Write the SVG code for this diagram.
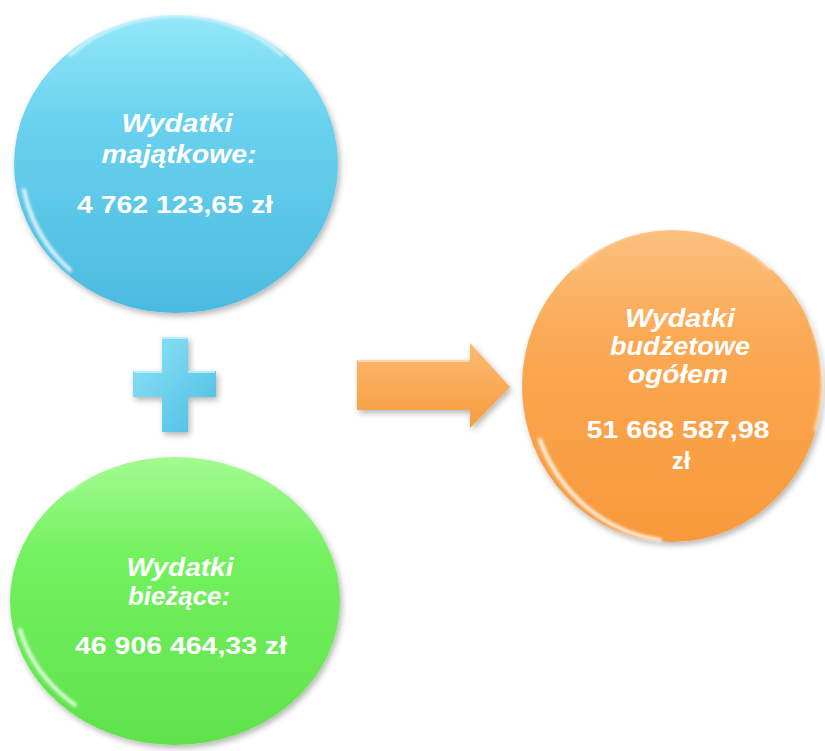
<svg xmlns="http://www.w3.org/2000/svg" width="825" height="751" viewBox="0 0 825 751">
<style>
.lbl{font-family:"Liberation Sans",Arial,sans-serif;font-weight:bold;font-style:italic;font-size:25px;fill:#fff;text-anchor:middle}
.num{font-family:"Liberation Sans",Arial,sans-serif;font-weight:bold;font-size:24px;fill:#fff;text-anchor:middle}
.rim{fill:none;stroke:#fff;stroke-linecap:round}
</style>
<defs>
<linearGradient id="gBlue" x1="0" y1="0" x2="0" y2="1">
<stop offset="0" stop-color="#93e8f8"/><stop offset="0.35" stop-color="#6ad2ee"/><stop offset="1" stop-color="#4bbbe0"/>
</linearGradient>
<linearGradient id="gGreen" x1="0" y1="0" x2="0" y2="1">
<stop offset="0" stop-color="#a2fb90"/><stop offset="0.35" stop-color="#73f15f"/><stop offset="1" stop-color="#5fe24b"/>
</linearGradient>
<linearGradient id="gOrange" x1="0" y1="0" x2="0" y2="1">
<stop offset="0" stop-color="#fcc07f"/><stop offset="0.35" stop-color="#faa954"/><stop offset="1" stop-color="#f8993a"/>
</linearGradient>
<linearGradient id="gPlus" x1="0" y1="0" x2="1" y2="1">
<stop offset="0" stop-color="#8fe4f7"/><stop offset="1" stop-color="#4cbce2"/>
</linearGradient>
<linearGradient id="gArrow" x1="0" y1="0" x2="0" y2="1">
<stop offset="0" stop-color="#fcbb72"/><stop offset="1" stop-color="#f89b3e"/>
</linearGradient>
<filter id="shadow" x="-20%" y="-20%" width="140%" height="140%">
<feGaussianBlur in="SourceAlpha" stdDeviation="3"/><feOffset dx="2" dy="3"/>
<feComponentTransfer><feFuncA type="linear" slope="0.3"/></feComponentTransfer>
<feMerge><feMergeNode/><feMergeNode in="SourceGraphic"/></feMerge>
</filter>
<filter id="soft"><feGaussianBlur stdDeviation="1.5"/></filter>
</defs>

<g id="node-majatkowe">
<ellipse cx="176" cy="164" rx="162" ry="149" fill="url(#gBlue)" filter="url(#shadow)"/>
<path class="rim" d="M70,55 A150,135 0 0 1 282,55" stroke-width="4" opacity="0.55" filter="url(#soft)"/>
<path class="rim" d="M24,190 A160,150 0 0 0 70,270" stroke-width="4" opacity="0.8" filter="url(#soft)"/>
<text class="lbl" x="177" y="132" textLength="111" lengthAdjust="spacingAndGlyphs">Wydatki</text>
<text class="lbl" x="179" y="163" textLength="155" lengthAdjust="spacingAndGlyphs">majątkowe:</text>
<text class="num" x="175" y="213" textLength="196" lengthAdjust="spacingAndGlyphs">4 762 123,65 zł</text>
</g>

<g id="node-biezace">
<ellipse cx="175" cy="601" rx="165" ry="144" fill="url(#gGreen)" filter="url(#shadow)"/>
<path class="rim" d="M70,490 A150,130 0 0 1 285,490" stroke-width="4" opacity="0.55" filter="url(#soft)"/>
<path class="rim" d="M20,630 A160,145 0 0 0 75,705" stroke-width="4" opacity="0.8" filter="url(#soft)"/>
<text class="lbl" x="180" y="576" textLength="107" lengthAdjust="spacingAndGlyphs">Wydatki</text>
<text class="lbl" x="179" y="605" textLength="102" lengthAdjust="spacingAndGlyphs">bieżące:</text>
<text class="num" x="181" y="654" textLength="212" lengthAdjust="spacingAndGlyphs">46 906 464,33 zł</text>
</g>

<g id="node-ogolem">
<ellipse cx="672" cy="386" rx="150" ry="156" fill="url(#gOrange)" filter="url(#shadow)"/>
<path class="rim" d="M575,268 A140,145 0 0 1 770,268" stroke-width="4" opacity="0.55" filter="url(#soft)"/>
<path class="rim" d="M540,440 A150,156 0 0 0 660,540" stroke="#fff6b0" stroke-width="4" opacity="0.85" filter="url(#soft)"/>
<path class="rim" d="M810,320 A150,156 0 0 1 815,430" stroke="#fff6b0" stroke-width="3" opacity="0.6" filter="url(#soft)"/>
<text class="lbl" x="680" y="327" textLength="110" lengthAdjust="spacingAndGlyphs">Wydatki</text>
<text class="lbl" x="680" y="355" textLength="140" lengthAdjust="spacingAndGlyphs">budżetowe</text>
<text class="lbl" x="678" y="383" textLength="100" lengthAdjust="spacingAndGlyphs">ogółem</text>
<text class="num" x="678" y="438" textLength="183" lengthAdjust="spacingAndGlyphs">51 668 587,98</text>
<text class="num" x="681" y="469">zł</text>
</g>

<g id="connectors">
<path d="M162,337 H188 V371 H216 V397 H188 V432 H162 V397 H133 V371 H162 Z" fill="url(#gPlus)" filter="url(#shadow)"/>
<path d="M162,338 H188 M134,372 H162 M188,372 H215" stroke="#c8f4fd" stroke-width="2" opacity="0.8"/>
<path d="M357,360 H470 V343 L510,387 L470,428 V410 H357 Z" fill="url(#gArrow)" filter="url(#shadow)"/>
<path d="M358,361 H469" stroke="#fde0b8" stroke-width="2" opacity="0.8"/>
</g>
</svg>
